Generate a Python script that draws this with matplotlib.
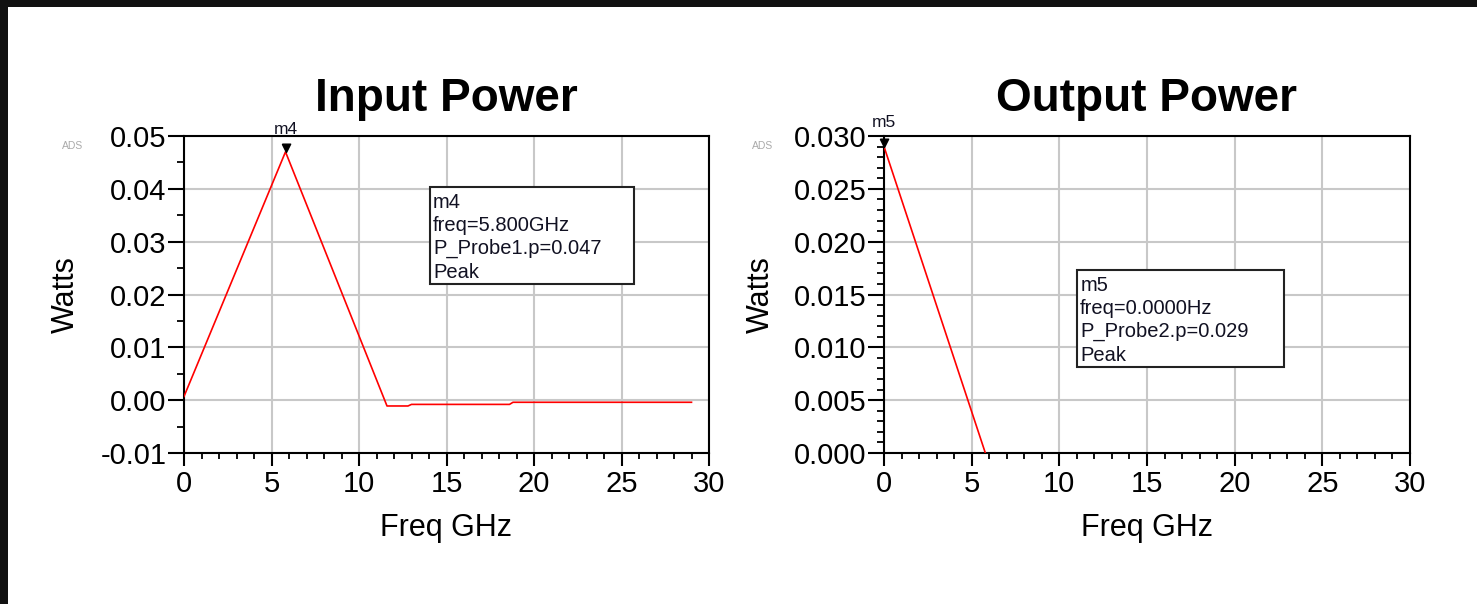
import matplotlib
matplotlib.use("Agg")
import matplotlib.pyplot as plt
from matplotlib.patches import Rectangle
from matplotlib.ticker import MultipleLocator, FormatStrFormatter

plt.rcParams['font.family'] = ['Liberation Sans', 'DejaVu Sans']

# ---- data ----
in_freq = [0.0, 5.8, 11.6, 12.8, 13.0, 18.6, 18.8, 29.0]
in_power = [0.0007, 0.047, -0.0011, -0.0011, -0.0008, -0.0008, -0.0004, -0.0004]
out_freq = [0.0, 5.8, 11.6, 17.4, 23.2, 29.0]
out_power = [0.029, -0.0001, -0.0008, -0.0006, -0.0006, -0.0006]

titles = ["Input Power", "Output Power"]
x_label = "Freq GHz"
y_label = "Watts"
marker_names = ["m4", "m5"]
marker_freq = [5.8, 0.0]
marker_val = [0.047, 0.029]
box_texts = ["m4\nfreq=5.800GHz\nP_Probe1.p=0.047\nPeak",
             "m5\nfreq=0.0000Hz\nP_Probe2.p=0.029\nPeak"]

W, H = 1477, 604
fig = plt.figure(figsize=(W / 100, H / 100), dpi=100)
fig.patch.set_facecolor('white')

def fx(px):
    return px / W

def fy(py):
    return 1 - py / H

ax1 = fig.add_axes([fx(184), fy(453), (709 - 184) / W, (453 - 136) / H])
ax2 = fig.add_axes([fx(884), fy(453), (1410 - 884) / W, (453 - 136) / H])

tip_marker = [(-0.55, 1.1), (0.55, 1.1), (0.0, 0.0), (-0.55, 1.1)]

configs = [
    dict(ax=ax1, x=in_freq, y=in_power, ylim=(-0.01, 0.05), ymaj=0.01, ymin=0.005,
         fmt='%.2f', box=(0.4686, 0.533, 0.3884, 0.306), ylab_x=-0.196, mtxt=(0, 11)),
    dict(ax=ax2, x=out_freq, y=out_power, ylim=(0.0, 0.030), ymaj=0.005, ymin=0.001,
         fmt='%.3f', box=(0.367, 0.271, 0.393, 0.306), ylab_x=-0.206, mtxt=(0, 12)),
]

for i, c in enumerate(configs):
    ax = c['ax']
    ax.plot(c['x'], c['y'], color='#ff0000', lw=1.2, zorder=3)
    ax.set_xlim(0, 30)
    ax.set_ylim(*c['ylim'])
    ax.xaxis.set_major_locator(MultipleLocator(5))
    ax.xaxis.set_minor_locator(MultipleLocator(1))
    ax.yaxis.set_major_locator(MultipleLocator(c['ymaj']))
    ax.yaxis.set_minor_locator(MultipleLocator(c['ymin']))
    ax.yaxis.set_major_formatter(FormatStrFormatter(c['fmt']))
    ax.grid(True, which='major', color='#c8c8c8', lw=1.5, zorder=0)
    for s in ax.spines.values():
        s.set_linewidth(1.5)
        s.set_color('black')
    ax.tick_params(axis='y', which='major', direction='out', length=11.5, width=1.5,
                   pad=1, labelsize=21)
    ax.tick_params(axis='y', which='minor', direction='out', length=5, width=1.3)
    ax.tick_params(axis='x', which='major', direction='out', length=9, width=1.5,
                   pad=3, labelsize=21)
    ax.tick_params(axis='x', which='minor', direction='out', length=4.5, width=1.3)
    ax.set_title(titles[i], fontsize=33, fontweight='bold', pad=18)
    ax.set_xlabel(x_label, fontsize=22)
    ax.set_ylabel(y_label, fontsize=22)
    ax.xaxis.set_label_coords(0.5, -0.19)
    ax.yaxis.set_label_coords(c['ylab_x'], 0.5)

    # marker triangle with tip on the data point
    ax.plot([marker_freq[i]], [marker_val[i]], marker=tip_marker, markersize=12,
            color='black', linestyle='none', clip_on=False, zorder=5)
    ax.annotate(marker_names[i], xy=(marker_freq[i], marker_val[i]),
                xytext=c['mtxt'], textcoords='offset points', ha='center', va='bottom',
                fontsize=12.5, color='#111122', annotation_clip=False)

    bx, by, bw, bh = c['box']
    ax.add_patch(Rectangle((bx, by), bw, bh, transform=ax.transAxes, fill=True,
                           facecolor='white', edgecolor='#222222', lw=1.5, zorder=4))
    ax.text(bx + 0.006, by + bh - 0.018, box_texts[i], transform=ax.transAxes,
            ha='left', va='top', fontsize=14.5, linespacing=1.28, color='#111122', zorder=6)

# small ADS watermarks
fig.text(fx(73), fy(146), "ADS", fontsize=7.5, color='#aaaaaa', ha='center', va='center')
fig.text(fx(763), fy(146), "ADS", fontsize=7.5, color='#aaaaaa', ha='center', va='center')

# black border at top and left
fig.add_artist(Rectangle((0, fy(7)), 1, 7 / H, transform=fig.transFigure,
                         facecolor='#111111', edgecolor='none'))
fig.add_artist(Rectangle((0, 0), 8 / W, 1, transform=fig.transFigure,
                         facecolor='#111111', edgecolor='none'))

fig.savefig("out.png", dpi=100, facecolor='white')
